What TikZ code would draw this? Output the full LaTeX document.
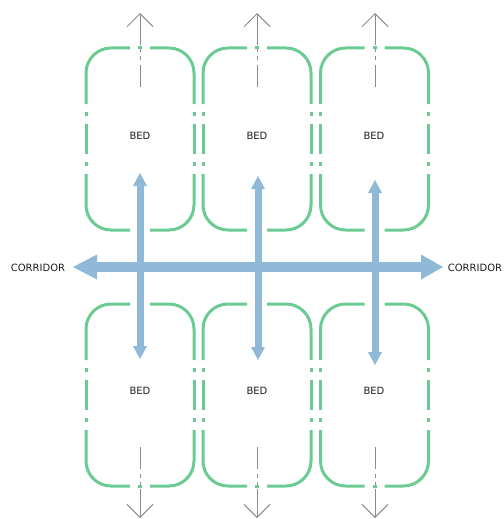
\documentclass[tikz,border=0pt]{standalone}
\usepackage{fontspec}
\setmainfont{DejaVu Sans}
\usetikzlibrary{arrows.meta}
\definecolor{bedgreen}{RGB}{108,203,147}
\definecolor{flowblue}{RGB}{143,185,215}
\definecolor{exitgray}{RGB}{140,140,140}
\definecolor{txt}{RGB}{30,30,30}
\begin{document}
\begin{tikzpicture}[x=1pt,y=-1pt,
  bedline/.style={draw=bedgreen,line width=3pt,line cap=butt},
  bedcorner/.style={bedline,rounded corners=25pt},
  exitline/.style={draw=exitgray,line width=1pt,
    dash pattern=on 22pt off 5pt on 4pt off 4pt on 3pt off 4pt on 80pt,
    -{Straight Barb[length=13pt,width=26pt]}},
  corridor/.style={draw=flowblue,line width=10pt,
    {Triangle[length=24pt,width=25pt,line width=0pt]}-{Triangle[length=22pt,width=25pt,line width=0pt]}},
  access/.style={draw=flowblue,line width=7pt,
    {Triangle[length=13pt,width=14pt,line width=0pt]}-{Triangle[length=13pt,width=14pt,line width=0pt]}},
  label/.style={text=txt,font=\fontsize{10}{12}\selectfont,inner sep=0pt}]
\useasboundingbox (0,0) rectangle (503,519);
% bed outlines
\foreach \cx/\cy in {140/139,257/139,374.5/139,140/395,257/395,374.5/395}{
  \begin{scope}[shift={(\cx,\cy)}]
    \draw[bedcorner] (10,-91) -- (54,-91) -- (54,-35);
    \draw[bedline] (54,-27) -- (54,-23);
    \draw[bedline] (54,-15) -- (54,15);
    \draw[bedline] (54,23) -- (54,27);
    \draw[bedcorner] (54,35) -- (54,91) -- (10,91);
    \draw[bedline] (2,91) -- (-2,91);
    \draw[bedcorner] (-10,91) -- (-54,91) -- (-54,35);
    \draw[bedline] (-54,27) -- (-54,23);
    \draw[bedline] (-54,15) -- (-54,-15);
    \draw[bedline] (-54,-23) -- (-54,-27);
    \draw[bedcorner] (-54,-35) -- (-54,-91) -- (-10,-91);
    \draw[bedline] (-2,-91) -- (2,-91);
  \end{scope}
}
% exit coordinates
\foreach \i/\x in {1/140,2/257,3/375}{
  \coordinate (ts\i) at (\x,87);
  \coordinate (te\i) at (\x,13);
  \coordinate (bs\i) at (\x,447);
  \coordinate (be\i) at (\x,518);
  \draw[exitline] (ts\i) -- (te\i);
  \draw[exitline] (bs\i) -- (be\i);
}
% labels
\node[label] (bed1) at (140,136) {BED};
\node[label] (bed2) at (257,136) {BED};
\node[label] (bed3) at (374,136) {BED};
\node[label] (bed4) at (140,391) {BED};
\node[label] (bed5) at (257,391) {BED};
\node[label] (bed6) at (374,391) {BED};
\node[label] (corL) at (38,268) {CORRIDOR};
\node[label] (corR) at (475,268) {CORRIDOR};
% flow arrows
\coordinate (cl) at (73,267);
\coordinate (cr) at (443,267);
\coordinate (a1t) at (140,173);
\coordinate (a1b) at (140,359);
\coordinate (a2t) at (258,176);
\coordinate (a2b) at (258,360);
\coordinate (a3t) at (375,180);
\coordinate (a3b) at (375,365);
\draw[corridor] (cl) -- (cr);
\draw[access] (a1t) -- (a1b);
\draw[access] (a2t) -- (a2b);
\draw[access] (a3t) -- (a3b);
\end{tikzpicture}
\end{document}
